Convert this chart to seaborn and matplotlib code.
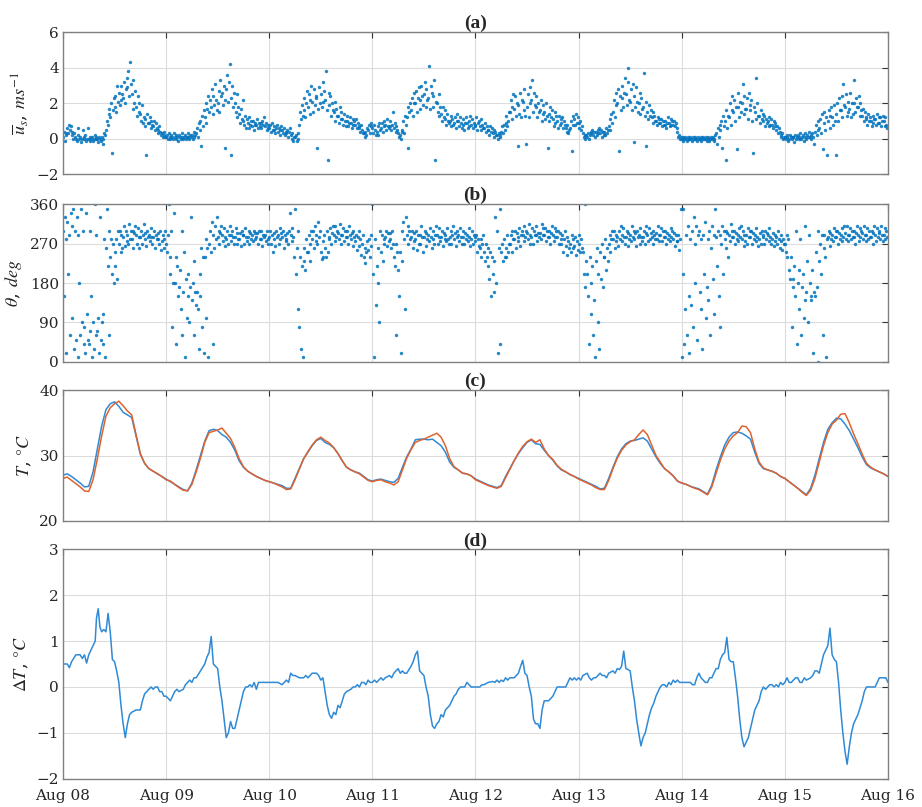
import numpy as np
import pandas as pd
import matplotlib
matplotlib.use('Agg')
import matplotlib.pyplot as plt
import matplotlib.dates as mdates
import seaborn as sns

#
# Data (Aug 08 - Aug 16)
#

# (a) wind speed, 5 readings per hour (12 min apart), one list per day
wind_aug08 = [0.1, 0.4, -0.1, 0.3, 0.2, 0.6, 0.3, 0.8, 0.5, 0.7, 0.4, 0.2, 0.0, 0.3, 0.1, 0.0, -0.1, 0.2, 0.6, 0.0,
              0.1, -0.2, 0.0, 0.5, 0.1, 0.0, 0.2, -0.1, 0.0, 0.6, 0.0, 0.1, -0.1, 0.0, 0.1, -0.1, 0.0, 0.2, 0.0, 0.1,
              0.0, -0.2, 0.1, 0.0, -0.1, 0.1, 0.0, -0.3, 0.3, 0.2, 0.5, 1.0, 0.8, 1.4, 1.7, 1.2, 2.0, -0.8, 1.6, 2.3,
              1.8, 2.4, 1.5, 3.0, 2.1, 2.6, 1.9, 3.0, 2.2, 2.5, 2.3, 3.2, 2.0, 2.8, 3.4, 2.9, 3.8, 2.4, 4.3, 3.1,
              2.5, 1.7, 3.3, 2.0, 2.7, 1.8, 1.3, 2.4, 1.5, 2.0, 1.4, 1.0, 1.9, 0.9, 1.2, 1.1, 0.7, -0.9, 1.4, 0.9,
              0.9, 1.2, 0.6, 1.0, 0.8, 0.7, 1.0, 0.5, 0.9, 0.6, 0.5, 0.3, 0.7, 0.4, 0.2, 0.3, 0.1, 0.4, 0.2, 0.1]
wind_aug09 = [0.1, 0.2, 0.0, 0.3, 0.1, 0.0, 0.2, 0.1, 0.0, 0.3, 0.1, 0.0, 0.2, 0.1, -0.1, 0.2, 0.1, 0.0, 0.3, 0.1,
              0.0, 0.1, 0.2, 0.0, 0.1, 0.1, 0.3, 0.0, 0.2, 0.1, 0.2, 0.0, 0.1, 0.4, 0.2, 0.3, 0.6, 0.1, 0.9, 0.5,
              1.0, -0.4, 1.3, 0.7, 1.6, 1.2, 2.0, 0.9, 1.7, 2.4, 1.5, 2.2, 1.8, 2.8, 1.4, 2.4, 1.9, 3.1, 2.2, 1.6,
              2.0, 2.7, 1.5, 3.3, 2.4, 2.6, 1.9, 3.0, 2.2, -0.5, 2.8, 3.6, 2.1, 3.2, 4.2, 2.3, -0.9, 3.0, 1.8, 2.6,
              2.0, 1.5, 2.5, 1.2, 1.8, 1.4, 0.9, 1.7, 1.1, 2.2, 1.0, 0.8, 1.3, 0.6, 1.1, 0.9, 0.6, 1.2, 0.8, 1.0,
              0.7, 1.0, 0.5, 0.9, 0.8, 0.8, 1.1, 0.6, 0.9, 0.7, 0.9, 0.6, 1.0, 0.8, 1.2, 0.7, 0.9, 0.5, 0.8, 0.6]
wind_aug10 = [0.6, 0.8, 0.4, 0.9, 0.5, 0.5, 0.7, 0.3, 0.6, 0.8, 0.4, 0.6, 0.2, 0.5, 0.7, 0.5, 0.3, 0.6, 0.2, 0.4,
              0.3, 0.5, 0.1, 0.4, 0.6, 0.2, 0.0, 0.3, -0.1, 0.1, 0.1, 0.2, -0.1, 0.0, 0.3, 0.8, 1.5, 1.1, 1.9, 1.3,
              1.6, 2.3, 1.2, 2.0, 2.7, 1.8, 2.5, 1.4, 2.2, 3.0, 2.1, 1.5, 2.8, 1.9, 2.4, 2.3, -0.5, 1.7, 2.9, 2.0,
              2.5, 1.8, 3.2, 2.1, 2.7, 2.2, 3.8, 1.6, -1.2, 2.6, 1.9, 2.4, 1.3, 2.0, 1.6, 1.5, 2.1, 1.0, 1.7, 1.3,
              1.3, 0.9, 1.8, 1.1, 1.5, 1.1, 0.8, 1.4, 1.0, 0.7, 1.0, 1.3, 0.7, 0.9, 1.2, 0.9, 0.6, 1.1, 0.8, 1.0,
              0.8, 1.1, 0.6, 0.9, 0.7, 0.6, 0.4, 0.8, 0.5, 0.3, 0.3, 0.1, 0.4, 0.2, 0.6, 0.5, 0.8, 0.3, 0.7, 0.9]
wind_aug11 = [0.6, 0.3, 0.8, 0.5, 0.2, 0.4, 0.7, 0.2, 0.9, 0.5, 0.6, 0.9, 0.4, 1.0, 0.7, 0.8, 0.5, 1.1, 0.7, 0.6,
              0.7, 1.0, 0.5, 0.8, 1.5, 0.6, 0.9, 0.4, 0.7, 0.5, 0.3, 0.1, 0.2, 0.0, 0.4, 0.5, 1.0, 0.3, 1.3, 0.8,
              1.2, 1.8, -0.5, 1.5, 2.0, 1.6, 2.3, 1.3, 2.0, 2.6, 2.0, 2.7, 1.5, 2.3, 2.9, 2.2, 1.7, 3.0, 2.4, 1.9,
              2.5, 3.2, 1.8, 2.8, 2.2, 2.3, 4.1, 1.7, 3.0, 2.6, 2.4, 1.8, 3.3, -1.2, 2.1, 2.0, 1.5, 2.5, 1.3, 1.8,
              1.4, 1.0, 1.8, 1.2, 1.6, 1.1, 0.8, 1.4, 1.0, 0.9, 1.0, 1.3, 0.7, 1.1, 0.8, 0.9, 1.2, 0.6, 1.0, 1.4,
              1.0, 0.7, 1.2, 0.9, 0.6, 0.8, 1.1, 0.5, 0.9, 1.2, 0.9, 0.6, 1.0, 0.7, 1.3, 0.8, 1.1, 0.6, 0.9, 0.7]
wind_aug12 = [0.8, 1.2, 0.5, 0.9, 1.0, 0.7, 1.1, 0.5, 0.8, 0.6, 0.6, 0.9, 0.4, 0.7, 0.5, 0.5, 0.2, 0.7, 0.4, 0.6,
              0.3, 0.5, 0.1, 0.4, 0.2, 0.2, 0.0, 0.3, 0.1, 0.2, 0.4, 0.7, 0.3, 0.8, 0.5, 0.9, 1.3, 0.7, 1.0, 1.5,
              1.5, 2.2, 1.1, 1.8, 2.5, 1.7, 2.4, 1.3, 2.0, -0.4, 1.9, 1.4, 2.6, 1.2, 2.2, 2.1, 1.6, 2.8, 1.3, -0.3,
              1.8, 2.5, 1.2, 2.9, 2.0, 2.2, 3.3, 1.5, 2.6, 1.9, 1.8, 2.4, 1.2, 2.0, 1.5, 1.6, 2.2, 1.0, 1.9, 1.4,
              1.5, 1.1, 2.0, 1.3, -0.5, 1.4, 1.0, 1.8, 1.2, 1.6, 1.1, 0.7, 1.5, 0.9, 1.3, 1.0, 0.6, 1.3, 0.8, 1.1,
              0.9, 1.2, 0.6, 1.0, 0.8, 0.6, 0.4, 0.8, 0.3, 0.5, 0.6, 1.0, -0.7, 1.3, 0.8, 1.1, 0.8, 1.4, 0.9, 1.2]
wind_aug13 = [0.9, 0.6, 1.0, 0.5, 0.7, 0.3, 0.1, 0.2, 0.0, 0.2, 0.1, 0.3, 0.0, 0.2, 0.4, 0.3, 0.5, 0.2, 0.4, 0.1,
              0.4, 0.2, 0.5, 0.3, 0.6, 0.3, 0.5, 0.1, 0.4, 0.2, 0.4, 0.2, 0.6, 0.3, 0.5, 0.7, 1.1, 0.5, 1.4, 0.9,
              1.5, 2.2, 1.2, 2.6, 1.9, 2.0, 2.8, -0.7, 2.4, 1.6, 2.3, 3.0, 1.8, 2.6, 3.4, 2.5, 1.9, 3.2, 4.0, 2.2,
              2.1, 2.8, 1.6, 3.1, -0.2, 2.4, 1.8, 2.9, 2.1, 1.5, 2.0, 2.6, 1.4, 2.3, 1.7, 1.8, 3.7, 1.3, -0.4, 2.1,
              1.5, 1.1, 1.9, 1.3, 1.6, 1.2, 1.5, 0.9, 1.3, 1.0, 1.0, 0.8, 1.2, 0.9, 1.1, 0.9, 1.1, 0.7, 1.0, 0.8,
              0.8, 1.0, 0.6, 0.9, 1.2, 0.9, 0.7, 1.1, 0.8, 1.0, 0.8, 1.0, 0.7, 0.9, 0.6, 0.4, 0.1, 0.2, 0.0, 0.1]
wind_aug14 = [0.0, 0.1, -0.1, 0.0, 0.1, 0.0, -0.1, 0.1, 0.0, 0.0, 0.1, 0.0, -0.1, 0.1, 0.0, 0.0, 0.1, 0.0, -0.1, 0.1,
              0.0, 0.0, 0.1, -0.1, 0.0, 0.1, 0.0, 0.0, 0.1, -0.1, 0.0, 0.1, -0.1, 0.0, 0.1, 0.0, 0.1, 0.0, -0.1, 0.2,
              0.3, -0.3, 0.6, 0.1, 0.8, 0.5, 1.0, -0.5, 1.3, 0.7, 1.0, -1.2, 1.6, 0.6, 1.3, 1.2, 2.0, 0.8, 1.6, 2.4,
              1.5, 2.2, 1.0, 1.8, -0.6, 1.8, 2.6, 1.2, 2.1, 1.5, 2.0, 3.1, 1.4, 2.4, 1.7, 1.7, 2.3, 1.1, 2.6, 1.9,
              1.6, 2.2, 1.0, -0.8, 1.8, 1.5, 3.4, 1.1, 2.0, 1.3, 1.3, 0.9, 1.6, 1.1, 1.4, 1.0, 1.3, 0.7, 1.1, 0.9,
              1.0, 0.7, 1.2, 0.8, 1.1, 0.8, 0.6, 1.0, 0.7, 0.9, 0.5, 0.7, 0.3, 0.6, 0.4, 0.2, 0.1, 0.3, 0.0, 0.1]
wind_aug15 = [0.1, 0.0, 0.2, 0.1, -0.1, 0.0, 0.2, 0.1, 0.0, 0.1, 0.1, -0.2, 0.2, 0.0, 0.1, 0.2, 0.0, 0.1, 0.3, 0.0,
              0.1, 0.2, -0.1, 0.1, 0.3, 0.0, 0.2, 0.1, 0.4, 0.1, 0.2, 0.0, 0.3, 0.1, -0.3, 0.4, 0.8, 0.2, 1.0, 0.5,
              0.6, 1.1, 0.3, 1.4, -0.6, 0.9, 1.5, 0.5, 1.2, -0.9, 1.0, 1.6, 0.6, 1.3, 1.8, 1.2, 0.8, 1.9, 1.0, -0.9,
              1.4, 2.0, 1.0, 2.3, 1.6, 1.6, 2.4, 1.2, 3.1, 1.9, 1.8, 2.5, 1.3, 2.1, 1.5, 1.7, 2.6, 1.2, 2.0, 1.4,
              2.0, 3.3, 1.5, 2.3, 1.8, 1.8, 2.4, 1.3, 2.0, 1.6, 1.3, 1.7, 1.0, 1.5, 1.2, 1.1, 0.8, 1.4, 1.0, 1.2,
              1.0, 0.7, 1.3, 0.9, 1.1, 1.1, 0.8, 1.4, 0.9, 1.2, 0.9, 1.2, 0.7, 1.0, 1.3, 1.0, 0.7, 1.2, 0.8, 0.6]

# (b) wind direction, same sampling
dir_aug08 = [300, 150, 330, 20, 280, 320, 200, 290, 60, 340, 310, 100, 350, 30, 300, 50, 330, 10, 290, 180,
             60, 350, 90, 300, 40, 80, 20, 340, 110, 50, 40, 300, 70, 150, 10, 90, 30, 360, 60, 290,
             70, 100, 20, 330, 50, 90, 110, 40, 280, 10, 260, 350, 220, 300, 60, 240, 280, 200, 270, 180,
             250, 220, 280, 190, 300, 270, 300, 250, 290, 260, 285, 310, 265, 300, 275, 290, 270, 315, 280, 300,
             280, 300, 260, 295, 310, 290, 270, 305, 285, 260, 285, 300, 270, 290, 315, 280, 295, 265, 300, 285,
             290, 275, 305, 285, 270, 285, 300, 260, 290, 280, 280, 295, 270, 300, 255, 275, 290, 260, 280, 300]
dir_aug09 = [270, 250, 290, 360, 240, 200, 300, 80, 180, 340, 180, 240, 40, 220, 150, 170, 210, 120, 60, 300,
             160, 250, 10, 190, 100, 150, 200, 90, 170, 330, 140, 180, 60, 230, 160, 130, 160, 120, 30, 150,
             200, 260, 80, 240, 20, 240, 280, 100, 260, 10, 270, 300, 250, 320, 40, 290, 260, 310, 280, 330,
             285, 300, 270, 295, 310, 290, 275, 305, 285, 265, 280, 300, 270, 290, 310, 290, 275, 300, 285, 270,
             285, 305, 270, 295, 280, 280, 295, 265, 300, 290, 290, 270, 305, 285, 275, 285, 300, 270, 295, 280,
             290, 275, 300, 280, 295, 285, 295, 270, 300, 280, 280, 300, 265, 290, 285, 290, 275, 300, 280, 270]
dir_aug10 = [285, 300, 270, 290, 250, 280, 295, 265, 300, 285, 290, 270, 305, 280, 295, 285, 300, 260, 290, 275,
             280, 295, 270, 300, 340, 290, 275, 305, 285, 240, 350, 200, 260, 120, 300, 80, 240, 30, 220, 10,
             230, 260, 210, 280, 250, 250, 290, 230, 270, 300, 280, 300, 260, 310, 275, 290, 270, 320, 285, 300,
             250, 235, 275, 240, 290, 260, 240, 300, 250, 280, 285, 305, 270, 295, 310, 290, 275, 310, 285, 300,
             295, 280, 315, 290, 270, 290, 305, 275, 300, 285, 285, 300, 270, 310, 290, 280, 295, 265, 300, 285,
             275, 290, 255, 285, 300, 265, 280, 245, 270, 290, 240, 260, 225, 250, 275, 255, 280, 240, 290, 265]
dir_aug11 = [360, 200, 10, 280, 130, 220, 180, 260, 90, 300, 250, 290, 230, 280, 270, 285, 300, 265, 295, 275,
             280, 295, 260, 300, 270, 240, 220, 270, 60, 250, 210, 150, 250, 20, 230, 300, 320, 280, 120, 330,
             290, 310, 270, 300, 280, 285, 300, 260, 295, 275, 280, 300, 255, 290, 270, 290, 270, 310, 285, 250,
             285, 300, 265, 295, 280, 290, 275, 305, 285, 260, 280, 300, 270, 290, 310, 290, 270, 305, 285, 275,
             285, 300, 265, 295, 280, 290, 275, 305, 280, 270, 285, 300, 270, 290, 310, 280, 295, 265, 300, 285,
             290, 275, 305, 285, 270, 285, 300, 270, 295, 280, 290, 275, 305, 285, 265, 280, 300, 270, 290, 285]
dir_aug12 = [275, 290, 250, 280, 265, 260, 280, 240, 270, 290, 250, 230, 270, 240, 260, 220, 190, 250, 150, 240,
             200, 160, 230, 330, 180, 300, 20, 260, 350, 40, 250, 270, 230, 280, 240, 260, 240, 290, 250, 270,
             270, 290, 250, 300, 280, 280, 300, 260, 295, 275, 285, 305, 265, 290, 300, 290, 275, 310, 285, 300,
             295, 280, 315, 290, 270, 285, 305, 270, 300, 290, 290, 310, 275, 295, 285, 295, 280, 315, 290, 305,
             290, 305, 275, 300, 285, 285, 300, 270, 295, 310, 290, 275, 305, 285, 300, 285, 300, 270, 295, 280,
             270, 290, 250, 280, 300, 265, 285, 245, 275, 260, 270, 250, 290, 260, 280, 265, 285, 245, 275, 255]
dir_aug13 = [270, 290, 250, 280, 260, 250, 200, 360, 170, 230, 200, 150, 40, 240, 110, 180, 220, 60, 140, 10,
             230, 260, 90, 200, 30, 250, 190, 270, 170, 240, 240, 280, 210, 260, 230, 270, 290, 250, 280, 300,
             280, 300, 260, 290, 275, 285, 265, 300, 280, 310, 290, 275, 305, 285, 270, 285, 300, 265, 295, 280,
             290, 275, 310, 285, 300, 280, 295, 265, 300, 285, 290, 270, 305, 285, 275, 285, 300, 270, 295, 310,
             290, 275, 305, 280, 295, 285, 300, 270, 290, 280, 295, 280, 310, 290, 275, 290, 305, 275, 300, 285,
             285, 300, 270, 295, 280, 290, 275, 305, 285, 300, 280, 295, 265, 290, 275, 275, 290, 255, 280, 350]
dir_aug14 = [10, 200, 350, 40, 120, 290, 60, 310, 150, 20, 280, 130, 300, 80, 330, 270, 180, 310, 50, 290,
             300, 160, 120, 280, 30, 290, 200, 320, 100, 170, 280, 140, 300, 60, 260, 310, 190, 290, 110, 350,
             285, 220, 300, 150, 80, 290, 270, 310, 200, 300, 280, 300, 260, 295, 240, 290, 275, 315, 285, 300,
             285, 300, 270, 295, 280, 290, 275, 305, 285, 310, 280, 300, 265, 290, 275, 290, 270, 305, 285, 300,
             285, 300, 270, 295, 280, 290, 275, 305, 285, 265, 280, 295, 270, 300, 290, 285, 270, 300, 280, 295,
             290, 275, 305, 285, 270, 280, 295, 265, 290, 275, 285, 270, 300, 280, 260, 275, 290, 255, 280, 270]
dir_aug15 = [270, 250, 290, 240, 280, 210, 190, 240, 80, 170, 190, 220, 150, 300, 40, 180, 210, 120, 280, 60,
             170, 200, 100, 310, 140, 160, 230, 90, 290, 180, 150, 140, 210, 20, 160, 150, 250, 170, 300, 0,
             230, 270, 200, 290, 60, 260, 290, 240, 10, 280, 285, 300, 265, 295, 280, 290, 275, 305, 285, 300,
             285, 300, 270, 295, 280, 290, 275, 305, 285, 310, 295, 280, 310, 290, 275, 290, 305, 280, 300, 285,
             285, 300, 270, 295, 310, 290, 275, 305, 285, 300, 295, 280, 310, 290, 275, 290, 305, 280, 300, 285,
             285, 300, 270, 295, 310, 290, 275, 305, 285, 300, 295, 280, 310, 290, 275, 290, 305, 280, 300, 285]

# (c) temperature, hourly, two sensors
t_blue = [27.0, 27.2, 26.8, 26.3, 25.8, 25.2, 25.3, 27.5, 31.0, 34.5, 37.0, 37.9, 38.2, 37.5, 36.6, 36.2, 35.8, 33.0, 30.2, 28.8, 28.0, 27.6, 27.2, 26.8,
          26.4, 26.0, 25.6, 25.2, 24.8, 24.6, 25.8, 27.8, 30.0, 32.2, 33.8, 34.0, 33.8, 33.2, 32.8, 32.0, 30.8, 29.2, 28.2, 27.6, 27.2, 26.8, 26.5, 26.2,
          26.0, 25.8, 25.6, 25.4, 25.0, 25.0, 26.5, 28.0, 29.5, 30.5, 31.5, 32.3, 32.6, 32.0, 31.7, 31.2, 30.3, 29.2, 28.2, 27.8, 27.5, 27.3, 26.8, 26.3,
          26.1, 26.3, 26.4, 26.2, 26.0, 25.9, 26.5, 28.2, 29.8, 31.0, 32.4, 32.5, 32.5, 32.4, 32.5, 32.0, 31.5, 30.5, 29.0, 28.2, 27.8, 27.3, 27.2, 26.9,
          26.4, 26.1, 25.8, 25.5, 25.3, 25.1, 25.4, 26.8, 28.0, 29.2, 30.3, 31.2, 32.0, 32.4, 31.8, 31.7, 30.8, 30.0, 29.3, 28.4, 27.8, 27.5, 27.1, 26.8,
          26.5, 26.2, 25.9, 25.6, 25.3, 24.9, 25.0, 26.5, 28.2, 29.8, 31.0, 31.8, 32.2, 32.3, 32.5, 32.7, 32.2, 31.0, 29.8, 28.8, 28.0, 27.5, 26.9, 26.1,
          25.8, 25.6, 25.3, 25.1, 24.9, 24.5, 24.1, 25.5, 27.8, 29.8, 31.6, 32.8, 33.5, 33.6, 33.4, 33.0, 32.5, 30.5, 28.8, 28.0, 27.8, 27.6, 27.3, 26.8,
          26.5, 26.0, 25.5, 25.0, 24.5, 24.0, 25.0, 27.0, 29.5, 32.0, 34.0, 35.0, 35.7, 35.6, 34.8, 33.8, 32.5, 31.2, 29.8, 28.6, 28.1, 27.8, 27.5, 27.2,
          26.8]
t_orange = [26.5, 26.7, 26.2, 25.7, 25.2, 24.6, 24.5, 26.3, 29.5, 33.0, 36.0, 37.3, 37.9, 38.3, 37.6, 36.8, 36.2, 33.2, 30.3, 28.8, 28.0, 27.6, 27.2, 26.8,
            26.3, 26.1, 25.6, 25.1, 24.7, 24.6, 25.6, 27.5, 29.6, 32.0, 33.5, 33.7, 33.9, 34.2, 33.4, 32.6, 31.2, 29.5, 28.3, 27.6, 27.2, 26.8, 26.5, 26.2,
            26.0, 25.8, 25.5, 25.2, 24.8, 24.9, 26.3, 27.9, 29.5, 30.6, 31.6, 32.4, 32.8, 32.3, 31.9, 31.2, 30.3, 29.2, 28.2, 27.8, 27.5, 27.2, 26.7, 26.2,
            26.0, 26.2, 26.3, 26.0, 25.8, 25.5, 26.0, 27.8, 29.6, 30.9, 32.0, 32.3, 32.5, 32.8, 33.1, 33.4, 32.8, 31.5, 29.5, 28.3, 27.8, 27.3, 27.2, 26.9,
            26.3, 26.0, 25.7, 25.4, 25.2, 25.0, 25.3, 26.6, 27.9, 29.2, 30.4, 31.4, 32.1, 32.5, 32.0, 32.4, 31.0, 30.0, 29.4, 28.5, 27.9, 27.5, 27.1, 26.8,
            26.4, 26.1, 25.8, 25.5, 25.1, 24.8, 24.8, 26.2, 28.0, 29.6, 30.8, 31.6, 32.1, 32.4, 33.2, 33.9, 33.2, 31.6, 30.0, 29.0, 28.0, 27.5, 26.9, 26.1,
            25.8, 25.6, 25.3, 25.0, 24.8, 24.4, 24.0, 25.2, 27.3, 29.3, 31.0, 32.2, 33.0, 33.5, 34.5, 34.4, 33.5, 31.0, 29.0, 28.1, 27.8, 27.6, 27.3, 26.8,
            26.5, 26.0, 25.5, 25.0, 24.4, 23.9, 24.7, 26.5, 29.0, 31.5, 33.5, 34.8, 35.4, 36.3, 36.4, 35.0, 33.3, 31.8, 30.2, 28.8, 28.2, 27.8, 27.5, 27.2,
            26.8]

# (d) temperature difference, (hour, value) pairs per day
dT_aug08 = [(0, 0.5), (1, 0.5), (1.5, 0.42), (2, 0.55), (3, 0.7), (4, 0.7), (4.5, 0.62), (5, 0.7), (5.5, 0.52), (6, 0.7),
            (7, 0.9), (7.5, 1.0), (7.8, 1.5), (8.2, 1.7), (8.6, 1.3), (9, 1.2), (9.5, 1.25), (10, 1.2), (10.5, 1.6), (11, 1.2),
            (11.5, 0.6), (12, 0.55), (12.5, 0.35), (13, 0.1), (13.5, -0.4), (14, -0.8), (14.5, -1.1), (15, -0.8), (15.5, -0.6),
            (16, -0.55), (17, -0.5), (18, -0.5), (18.5, -0.3), (19, -0.15), (20, -0.05), (20.5, 0.0), (21, -0.05), (21.5, 0.0),
            (22, 0.0), (22.5, -0.1), (23, -0.1), (23.5, -0.2)]
dT_aug09 = [(24, -0.2), (24.5, -0.25), (25, -0.3), (25.5, -0.2), (26, -0.1), (26.5, -0.05), (27, -0.1), (28, -0.05), (28.5, 0.05),
            (29, 0.1), (29.5, 0.15), (30, 0.1), (30.5, 0.2), (31, 0.2), (32, 0.35), (33, 0.5), (33.5, 0.65), (34, 0.75), (34.5, 1.1),
            (35, 0.5), (35.5, 0.45), (36, 0.4), (36.5, 0.0), (37, -0.3), (37.5, -0.7), (38, -1.1), (38.5, -1.0), (39, -0.75),
            (39.5, -0.9), (40, -0.9), (40.5, -0.7), (41, -0.5), (41.5, -0.3), (42, -0.1), (42.5, 0.0), (43, 0.0), (43.5, 0.05),
            (44, 0.0), (44.5, 0.1), (45, -0.05), (45.5, 0.1), (46, 0.1), (47, 0.1)]
dT_aug10 = [(48, 0.1), (49, 0.1), (50, 0.1), (51, 0.05), (51.5, 0.1), (52, 0.15), (52.5, 0.1), (53, 0.3), (53.5, 0.25), (54, 0.25),
            (55, 0.2), (56, 0.2), (56.5, 0.25), (57, 0.2), (58, 0.3), (59, 0.3), (59.5, 0.25), (60, 0.15), (60.5, 0.2), (61, -0.1),
            (61.5, -0.4), (62, -0.6), (62.5, -0.68), (63, -0.55), (63.5, -0.6), (64, -0.4), (64.5, -0.45), (65, -0.3), (65.5, -0.15),
            (66, -0.1), (67, -0.05), (67.5, 0.0), (68, 0.0), (68.5, 0.05), (69, 0.0), (69.5, 0.1), (70, 0.1), (70.5, 0.05),
            (71, 0.15), (71.5, 0.1)]
dT_aug11 = [(72, 0.1), (72.5, 0.15), (73, 0.1), (74, 0.2), (74.5, 0.15), (75, 0.2), (76, 0.25), (76.5, 0.2), (77, 0.3), (77.5, 0.35),
            (78, 0.4), (78.5, 0.3), (79, 0.35), (79.5, 0.3), (80, 0.3), (81, 0.45), (81.5, 0.55), (82, 0.7), (82.5, 0.78), (83, 0.35),
            (83.5, 0.3), (84, 0.25), (84.5, 0.0), (85, -0.2), (85.5, -0.6), (86, -0.85), (86.5, -0.9), (87, -0.8), (87.5, -0.75),
            (88, -0.6), (88.5, -0.65), (89, -0.5), (89.5, -0.45), (90, -0.4), (90.5, -0.3), (91, -0.2), (91.5, -0.15), (92, -0.05),
            (92.5, 0.0), (93, 0.0), (93.5, 0.0), (94, 0.1), (94.5, 0.05), (95, 0.0), (95.5, 0.0)]
dT_aug12 = [(96, 0.0), (97, 0.0), (97.5, 0.05), (98, 0.05), (99, 0.1), (100, 0.12), (100.5, 0.1), (101, 0.15), (101.5, 0.1),
            (102, 0.15), (102.5, 0.12), (103, 0.2), (103.5, 0.15), (104, 0.2), (105, 0.2), (105.5, 0.25), (106, 0.3), (106.5, 0.45),
            (107, 0.58), (107.5, 0.3), (108, 0.25), (108.5, 0.0), (109, -0.2), (109.5, -0.7), (110, -0.8), (110.5, -0.8), (111, -0.9),
            (111.5, -0.5), (112, -0.3), (113, -0.3), (113.5, -0.25), (114, -0.2), (114.5, -0.1), (115, 0.0), (116, 0.0), (117, 0.0),
            (117.5, 0.1), (118, 0.2), (118.5, 0.15), (119, 0.2), (119.5, 0.15)]
dT_aug13 = [(120, 0.2), (120.5, 0.15), (121, 0.25), (122, 0.3), (122.5, 0.2), (123, 0.15), (123.5, 0.2), (124, 0.2), (125, 0.3),
            (125.5, 0.25), (126, 0.25), (126.5, 0.2), (127, 0.3), (128, 0.35), (128.5, 0.3), (129, 0.4), (129.5, 0.38), (130, 0.45),
            (130.5, 0.78), (131, 0.4), (131.5, 0.38), (132, 0.35), (132.5, 0.0), (133, -0.3), (133.5, -0.7), (134, -1.0), (134.5, -1.28),
            (135, -1.1), (135.5, -1.0), (136, -0.8), (136.5, -0.6), (137, -0.45), (137.5, -0.35), (138, -0.2), (138.5, -0.1), (139, 0.0),
            (139.5, 0.05), (140, 0.05), (140.5, 0.0), (141, 0.1), (141.5, 0.05), (142, 0.15), (142.5, 0.1), (143, 0.15), (143.5, 0.1)]
dT_aug14 = [(144, 0.1), (145, 0.1), (146, 0.1), (146.5, 0.05), (147, 0.05), (147.5, 0.2), (148, 0.3), (148.5, 0.2), (149, 0.15),
            (149.5, 0.1), (150, 0.1), (150.5, 0.2), (151, 0.2), (151.5, 0.3), (152, 0.4), (152.5, 0.4), (153, 0.6), (153.5, 0.7),
            (154, 0.75), (154.5, 1.08), (155, 0.6), (155.5, 0.55), (156, 0.55), (156.5, 0.2), (157, -0.2), (157.5, -0.7), (158, -1.1),
            (158.5, -1.3), (159, -1.2), (159.5, -1.1), (160, -0.9), (160.5, -0.7), (161, -0.5), (161.5, -0.4), (162, -0.3), (162.5, -0.1),
            (163, 0.0), (163.5, -0.05), (164, 0.0), (164.5, 0.05), (165, 0.05), (165.5, 0.0), (166, 0.05), (166.5, 0.0), (167, 0.1),
            (167.5, 0.05)]
dT_aug15 = [(168, 0.1), (168.5, 0.2), (169, 0.1), (169.5, 0.1), (170, 0.15), (170.5, 0.2), (171, 0.2), (171.5, 0.1), (172, 0.1),
            (172.5, 0.2), (173, 0.15), (174, 0.2), (174.5, 0.25), (175, 0.35), (175.5, 0.35), (176, 0.3), (176.5, 0.5), (177, 0.7),
            (177.5, 0.8), (178, 0.9), (178.5, 1.28), (179, 0.7), (179.5, 0.6), (180, 0.55), (180.5, 0.1), (181, -0.5), (181.5, -1.0),
            (182, -1.4), (182.5, -1.68), (183, -1.3), (183.5, -1.0), (184, -0.8), (184.5, -0.7), (185, -0.6), (185.5, -0.45),
            (186, -0.3), (186.5, -0.1), (187, 0.0), (188, 0.0), (189, 0.0), (189.5, 0.1), (190, 0.2), (191, 0.2), (191.5, 0.2),
            (192, 0.1)]

#%%

#
# Build frames
#

start = pd.Timestamp('2016-08-08')
end = pd.Timestamp('2016-08-16')

wind = np.concatenate([wind_aug08, wind_aug09, wind_aug10, wind_aug11,
                       wind_aug12, wind_aug13, wind_aug14, wind_aug15])
wdir = np.concatenate([dir_aug08, dir_aug09, dir_aug10, dir_aug11,
                       dir_aug12, dir_aug13, dir_aug14, dir_aug15])
scatter_df = pd.DataFrame({'time': pd.date_range(start, periods=len(wind), freq='12min'),
                           'wind': wind, 'dir': wdir})

temp_df = pd.DataFrame({'time': pd.date_range(start, periods=len(t_blue), freq='1h'),
                        'blue': t_blue, 'orange': t_orange})

dT_pts = dT_aug08 + dT_aug09 + dT_aug10 + dT_aug11 + dT_aug12 + dT_aug13 + dT_aug14 + dT_aug15
dT_df = pd.DataFrame(dT_pts, columns=['hour', 'dT'])
dT_df['time'] = start + pd.to_timedelta(dT_df['hour'], unit='h')

#%%

#
# Plot
#

sns.set_theme(style='white')
plt.rcParams['font.family'] = ['DejaVu Serif']
plt.rcParams['mathtext.fontset'] = 'stix'

BLUE = '#0072BD'
ORANGE = '#E0622F'

fig = plt.figure(figsize=(9.22, 8.07), dpi=100)
left, width = 0.0683, 0.8948
ax_a = fig.add_axes([left, 0.784, width, 0.176])
ax_b = fig.add_axes([left, 0.5518, width, 0.195])
ax_c = fig.add_axes([left, 0.3544, width, 0.1623])
ax_d = fig.add_axes([left, 0.0347, width, 0.285])

sns.scatterplot(data=scatter_df, x='time', y='wind', ax=ax_a, color=BLUE,
                s=6, linewidth=0, alpha=0.85)
sns.scatterplot(data=scatter_df, x='time', y='dir', ax=ax_b, color=BLUE,
                s=6, linewidth=0, alpha=0.85)
sns.lineplot(data=temp_df, x='time', y='blue', ax=ax_c, color='#2F8AD6', linewidth=1.1)
sns.lineplot(data=temp_df, x='time', y='orange', ax=ax_c, color=ORANGE, linewidth=1.1)
sns.lineplot(data=dT_df, x='time', y='dT', ax=ax_d, color='#2F8AD6', linewidth=1.1)

ax_a.set_ylim(-2, 6)
ax_a.set_yticks([-2, 0, 2, 4, 6])
ax_b.set_ylim(0, 360)
ax_b.set_yticks([0, 90, 180, 270, 360])
ax_c.set_ylim(20, 40)
ax_c.set_yticks([20, 30, 40])
ax_d.set_ylim(-2, 3)
ax_d.set_yticks([-2, -1, 0, 1, 2, 3])

ax_a.set_ylabel(r'$\overline{u}_s$, $ms^{-1}$', fontsize=13)
ax_b.set_ylabel(r'$\theta$, $deg$', fontsize=13)
ax_c.set_ylabel(r'$T$, $°C$', fontsize=13)
ax_d.set_ylabel(r'$\Delta T$, $°C$', fontsize=13)

for ax, tag in zip([ax_a, ax_b, ax_c, ax_d], ['(a)', '(b)', '(c)', '(d)']):
    ax.set_title(tag, fontsize=14, fontweight='bold', family='Liberation Serif', pad=2)
    ax.set_xlim(start, end)
    ax.xaxis.set_major_locator(mdates.DayLocator())
    ax.xaxis.set_major_formatter(mdates.DateFormatter('%b %d'))
    ax.set_xlabel('')
    ax.grid(True, color='#dcdcdc', linewidth=0.8)
    ax.set_axisbelow(True)
    ax.tick_params(direction='in', length=4, width=0.8, color='#333333',
                   top=True, right=True, labelsize=11, pad=3)
    ax.tick_params(axis='x', pad=7)
    for sp in ax.spines.values():
        sp.set_color('#808080')
        sp.set_linewidth(1.0)
    if ax is not ax_d:
        ax.tick_params(labelbottom=False)

fig.savefig('out.png', dpi=100)
